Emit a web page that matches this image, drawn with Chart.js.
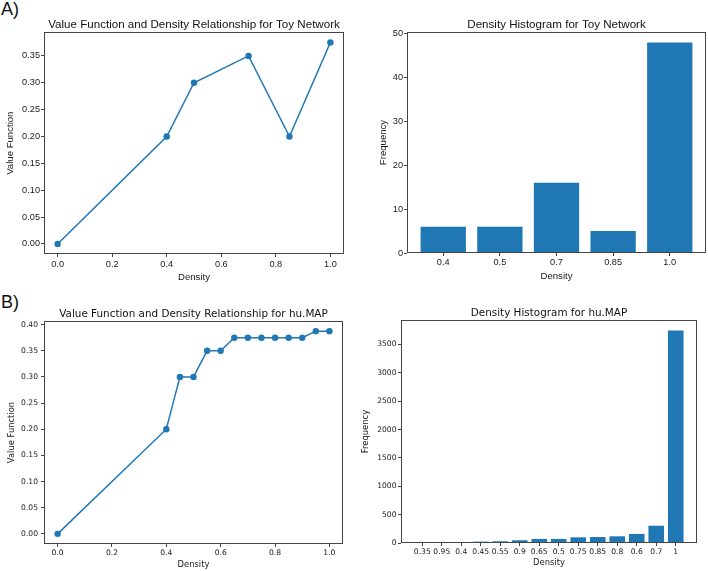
<!DOCTYPE html>
<html>
<head>
<meta charset="utf-8">
<script src="https://cdn.jsdelivr.net/npm/chart.js@4.4.0/dist/chart.umd.min.js"></script>
<style>
body { margin: 0; background: #fff; width: 708px; height: 571px; position: relative; overflow: hidden; }
canvas { position: absolute; }
.tag { position: absolute; font-family: "Liberation Sans", Arial, sans-serif; font-size: 18px; line-height: 18px; color: #111; }
</style>
</head>
<body>
<div class="tag" style="left:1px;top:0px">A)</div>
<div class="tag" style="left:1px;top:293px">B)</div>
<canvas id="toyLine" width="354" height="285" style="left:0;top:0"></canvas>
<canvas id="toyHist" width="354" height="285" style="left:354px;top:0"></canvas>
<canvas id="humapLine" width="354" height="286" style="left:0;top:285px"></canvas>
<canvas id="humapHist" width="354" height="286" style="left:354px;top:285px"></canvas>
<script>
// A) toy network
var toyDensity = [0, 0.4, 0.5, 0.7, 0.85, 1.0];
var toyValue = [0, 0.2, 0.3, 0.35, 0.2, 0.375];
var toyHistLabels = ['0.4', '0.5', '0.7', '0.85', '1.0'];
var toyHistFreq = [6, 6, 16, 5, 48];

// B) hu.MAP
var humapDensity = [0, 0.4, 0.45, 0.5, 0.55, 0.6, 0.65, 0.7, 0.75, 0.8, 0.85, 0.9, 0.95, 1.0];
var humapValue = [0, 0.2, 0.3, 0.3, 0.35, 0.35, 0.375, 0.375, 0.375, 0.375, 0.375, 0.375, 0.3875, 0.3875];
var humapHistLabels = ['0.35', '0.95', '0.4', '0.45', '0.55', '0.9', '0.65', '0.5', '0.75', '0.85', '0.8', '0.6', '0.7', '1'];
var humapHistFreq = [2, 12, 12, 24, 30, 48, 72, 72, 100, 105, 118, 160, 305, 3745];

// tick positions
var densityTicks = [0, 0.2, 0.4, 0.6, 0.8, 1.0];
var toyValueTicks = [0, 0.05, 0.1, 0.15, 0.2, 0.25, 0.3, 0.35];
var humapValueTicks = [0, 0.05, 0.1, 0.15, 0.2, 0.25, 0.3, 0.35, 0.4];
var toyFreqTicks = [0, 10, 20, 30, 40, 50];
var humapFreqTicks = [0, 500, 1000, 1500, 2000, 2500, 3000, 3500];

var blue = '#1f77b4';
var ARIAL = '"Liberation Sans", Arial, sans-serif';
var DEJAVU = '"DejaVu Sans", sans-serif';

// matplotlib style box round the axes
var framePlugin = {
    id: 'frame',
    afterDraw: function(chart) {
        var a = chart.chartArea;
        var c = chart.ctx;
        c.save();
        c.strokeStyle = '#444';
        c.lineWidth = 1;
        c.strokeRect(Math.round(a.left) + 0.5, Math.round(a.top) + 0.5,
            Math.round(a.right) - Math.round(a.left) - 1, Math.round(a.bottom) - Math.round(a.top) - 1);
        c.restore();
    }
};

function axis(o) {
    return {
        type: 'linear',
        min: o.min,
        max: o.max,
        offset: false,
        afterBuildTicks: function(s) {
            s.ticks = o.ticks.map(function(v) { return { value: v }; });
        },
        afterFit: function(s) {
            if (s.isHorizontal()) { s.height = o.size; } else { s.width = o.size; }
        },
        border: { display: false },
        grid: { offset: false, drawOnChartArea: false, drawTicks: true, tickLength: 3, color: '#444', tickColor: '#444' },
        ticks: {
            autoSkip: false, maxRotation: 0, minRotation: 0,
            padding: o.tickPad, color: '#1a1a1a',
            font: { family: o.family, size: o.tickSize },
            callback: o.fmt
        },
        title: {
            display: true, text: o.title, color: '#1a1a1a',
            font: { family: o.family, size: o.titleSize, lineHeight: 1.2 },
            padding: o.titlePad
        }
    };
}

function makeChart(id, type, dataset, title, titleFont, titlePad, padRight, xAxis, yAxis) {
    var ctx = document.getElementById(id).getContext('2d');
    return new Chart(ctx, {
        type: type,
        data: { datasets: [dataset] },
        options: {
            responsive: false,
            animation: false,
            layout: { padding: { left: 0, right: padRight, top: 0, bottom: 0 } },
            plugins: {
                legend: { display: false },
                tooltip: { enabled: false },
                title: {
                    display: true, text: title, fullSize: false, color: '#111',
                    font: titleFont, padding: titlePad
                }
            },
            scales: { x: xAxis, y: yAxis }
        },
        plugins: [framePlugin]
    });
}

function points(xs, ys) {
    return xs.map(function(x, i) { return { x: x, y: ys[i] }; });
}

function lineSet(xs, ys) {
    return {
        data: points(xs, ys),
        borderColor: blue, borderWidth: 1.5,
        pointRadius: 3.2, pointBackgroundColor: blue, pointBorderWidth: 0,
        tension: 0
    };
}

function barSet(freq) {
    return {
        data: freq.map(function(v, i) { return { x: i, y: v }; }),
        backgroundColor: blue,
        categoryPercentage: 0.8, barPercentage: 1.0
    };
}

var fmt1 = function(v) { return v.toFixed(1); };
var fmt2 = function(v) { return v.toFixed(2); };
var fmt0 = function(v) { return String(v); };

makeChart('toyLine', 'line', lineSet(toyDensity, toyValue),
    'Value Function and Density Relationship for Toy Network',
    { family: ARIAL, size: 11.6, weight: 'normal', lineHeight: 1.2 }, { top: 17.5, bottom: 1 }, 10,
    axis({ min: -0.05, max: 1.05, ticks: densityTicks, size: 31, tickPad: 1.5, family: ARIAL, tickSize: 9.2,
        fmt: fmt1, title: 'Density', titleSize: 9.6, titlePad: { top: 0, bottom: 2 } }),
    axis({ min: -0.01875, max: 0.39375, ticks: toyValueTicks, size: 44, tickPad: 1, family: ARIAL, tickSize: 9.2,
        fmt: fmt2, title: 'Value Function', titleSize: 9.6, titlePad: { top: 5, bottom: 0 } }));

makeChart('toyHist', 'bar', barSet(toyHistFreq),
    'Density Histogram for Toy Network',
    { family: ARIAL, size: 11.6, weight: 'normal', lineHeight: 1.2 }, { top: 17.5, bottom: 0.6 }, 2,
    axis({ min: -0.64, max: 4.64, ticks: [0, 1, 2, 3, 4], size: 32, tickPad: 0.5, family: ARIAL, tickSize: 9.2,
        fmt: function(v) { return toyHistLabels[Math.round(v)]; },
        title: 'Density', titleSize: 9.6, titlePad: { top: 0, bottom: 3 } }),
    axis({ min: 0, max: 50.4, ticks: toyFreqTicks, size: 53, tickPad: 1, family: ARIAL, tickSize: 9.2,
        fmt: fmt0, title: 'Frequency', titleSize: 9.6, titlePad: { top: 23.8, bottom: 0 } }));

makeChart('humapLine', 'line', lineSet(humapDensity, humapValue),
    'Value Function and Density Relationship for hu.MAP',
    { family: DEJAVU, size: 10.4, weight: 'normal', lineHeight: 1.2 }, { top: 23.25, bottom: 0.27 }, 11,
    axis({ min: -0.05, max: 1.05, ticks: densityTicks, size: 27, tickPad: 1.4, family: DEJAVU, tickSize: 7.6,
        fmt: fmt1, title: 'Density', titleSize: 8.4, titlePad: { top: 0, bottom: 1 } }),
    axis({ min: -0.019375, max: 0.406875, ticks: humapValueTicks, size: 44, tickPad: 3, family: DEJAVU, tickSize: 7.6,
        fmt: fmt2, title: 'Value Function', titleSize: 8.4, titlePad: { top: 6.7, bottom: 0 } }));

makeChart('humapHist', 'bar', barSet(humapHistFreq),
    'Density Histogram for hu.MAP',
    { family: DEJAVU, size: 10.4, weight: 'normal', lineHeight: 1.2 }, { top: 22.26, bottom: 0.26 }, 11,
    axis({ min: -1.09, max: 14.09, ticks: [0, 1, 2, 3, 4, 5, 6, 7, 8, 9, 10, 11, 12, 13], size: 28, tickPad: 1.4,
        family: DEJAVU, tickSize: 7.6,
        fmt: function(v) { return humapHistLabels[Math.round(v)]; },
        title: 'Density', titleSize: 8.4, titlePad: { top: 0, bottom: 3 } }),
    axis({ min: 0, max: 3932, ticks: humapFreqTicks, size: 47, tickPad: 1.5, family: DEJAVU, tickSize: 7.6,
        fmt: fmt0, title: 'Frequency', titleSize: 8.4, titlePad: { top: 7, bottom: 0 } }));
</script>
</body>
</html>
